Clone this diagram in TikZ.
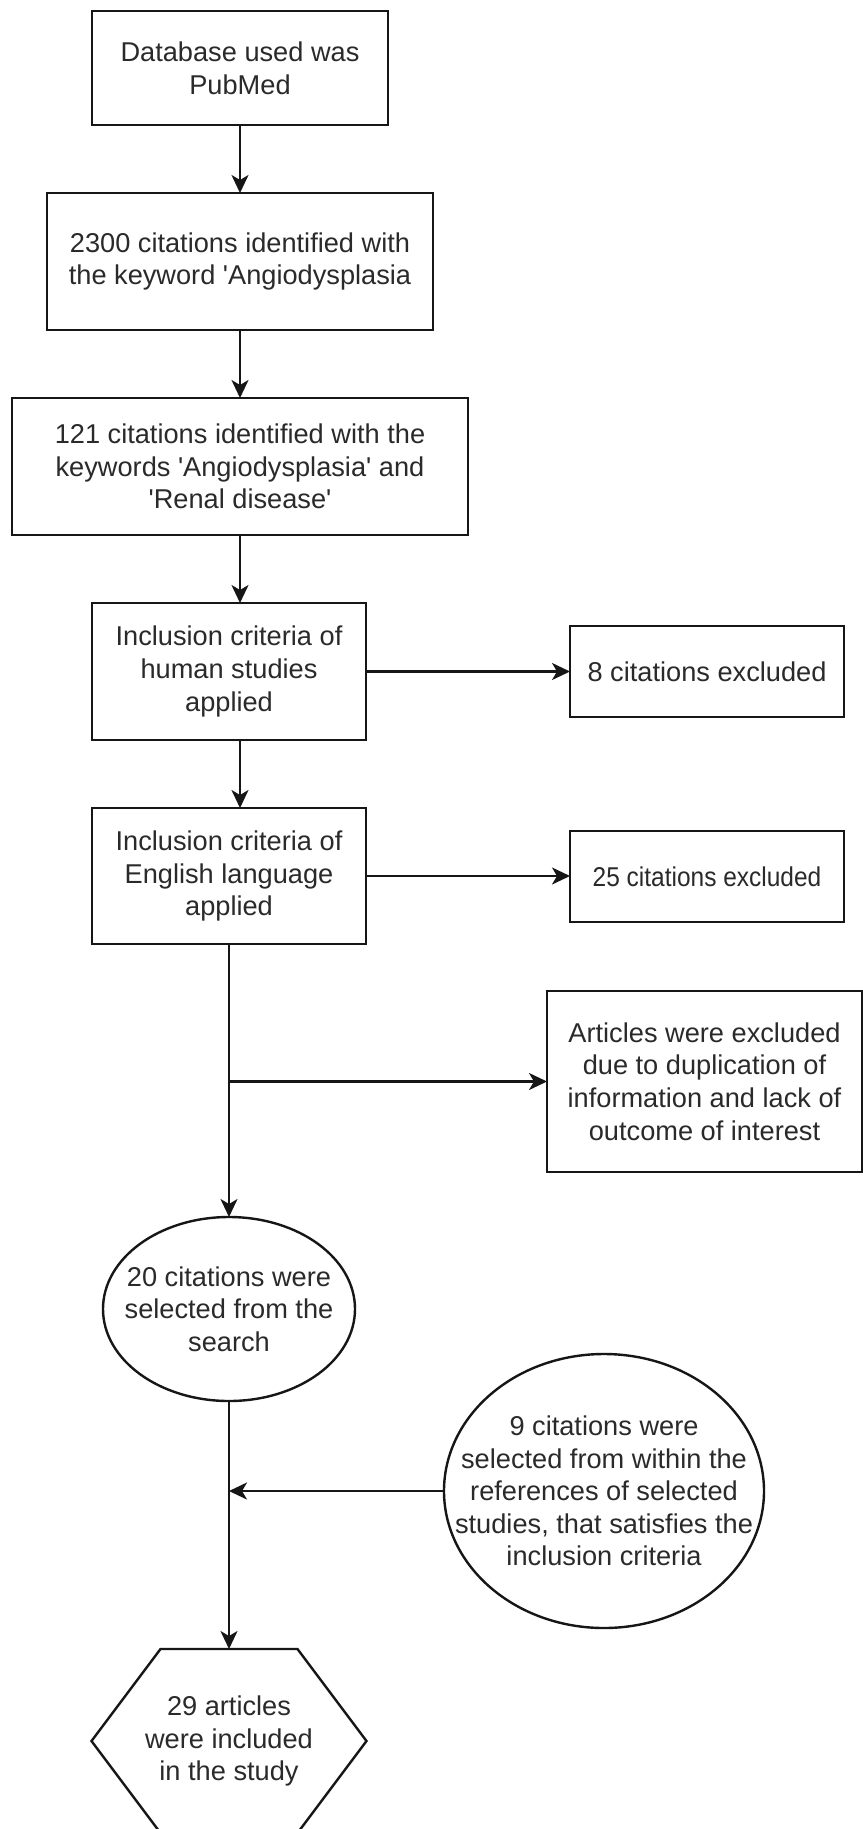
\documentclass[tikz,border=0pt]{standalone}
\usepackage{fontspec}
\setmainfont{Liberation Sans}
\usepackage{graphicx}
\usetikzlibrary{arrows.meta,shapes.geometric}
\definecolor{ln}{HTML}{161616}
\definecolor{txt}{HTML}{2A2A2A}
\newcommand\myq{\textquotesingle}
\begin{document}
\begin{tikzpicture}[x=1bp,y=-1bp,
  every node/.style={font=\fontsize{27.2bp}{32.6bp}\selectfont, text=txt, align=center, outer sep=0pt},
  box/.style={draw=ln, line width=2.5bp, rectangle, inner sep=0pt},
  ell/.style={draw=ln, line width=2.4bp, ellipse, inner sep=0pt},
  lbl/.style={align=center, inner sep=0pt},
  conn/.style={draw=ln, line width=2.3bp, -{Stealth[length=18bp,width=17bp,inset=5bp]}},
  plainln/.style={draw=ln, line width=2.3bp}]
\useasboundingbox (0,0) rectangle (863,1829);
\fill[white] (0,0) rectangle (863,1829);
\clip (0,0) rectangle (863,1829);

\node[box, minimum width=296bp, minimum height=114bp] (b1) at (240,68) {Database used was\\PubMed};
\node[box, minimum width=386bp, minimum height=137bp] (b2) at (240,261.5) {2300 citations identified with\\the keyword \myq Angiodysplasia};
\node[box, minimum width=456bp, minimum height=137bp] (b3) at (240,466.5) {121 citations identified with the\\keywords \myq Angiodysplasia\myq{} and\\\myq Renal disease\myq};
\node[box, minimum width=274bp, minimum height=137bp] (b4) at (229,671.5) {Inclusion criteria of\\human studies\\applied};
\node[box, minimum width=274bp, minimum height=91bp] (x1) at (707,671.5) {8 citations excluded};
\node[box, minimum width=274bp, minimum height=136bp] (b5) at (229,876) {Inclusion criteria of\\English language\\applied};
\node[box, minimum width=274bp, minimum height=91bp] (x2) at (707,876.5) {\scalebox{0.9}[1]{25 citations excluded}};
\node[box, minimum width=315bp, minimum height=181bp] (art) at (704.5,1081.5) {Articles were excluded\\due to duplication of\\information and lack of\\outcome of interest};
\node[ell, minimum width=252bp, minimum height=184bp, label={[lbl]center:{20 citations were\\selected from the\\search}}] (e1) at (229,1309) {};
\node[ell, minimum width=320bp, minimum height=274bp, label={[lbl]center:{9 citations were\\selected from within the\\references of selected\\studies, that satisfies the\\inclusion criteria}}] (e2) at (604,1491) {};
\node[minimum width=275bp, minimum height=184bp, inner sep=0pt] (hx) at (229,1741) {29 articles\\were included\\in the study};
\draw[draw=ln, line width=2.4bp] ([xshift=69bp]hx.north west) -- ([xshift=-69bp]hx.north east) -- (hx.east) -- ([xshift=-69bp]hx.south east) -- ([xshift=69bp]hx.south west) -- (hx.west) -- cycle;

\draw[conn] (b1.south) -- (b2.north);
\draw[conn] (b2.south) -- (b3.north);
\draw[conn] (b3.south) -- (b3.south |- b4.north);
\draw[conn] (b3.south |- b4.south) -- (b3.south |- b5.north);
\draw[conn] (b4.east) -- (x1.west);
\draw[conn] (b5.east) -- (b5.east -| x2.west);
\draw[conn] (b5.south) -- (e1.north);
\coordinate (br) at (b5.south |- art.west);
\draw[conn] (br) -- (art.west);
\coordinate (jn) at (e1.south |- e2.west);
\draw[conn] (e2.west) -- (jn);
\draw[conn] (e1.south) -- (hx.north);
\end{tikzpicture}
\end{document}
